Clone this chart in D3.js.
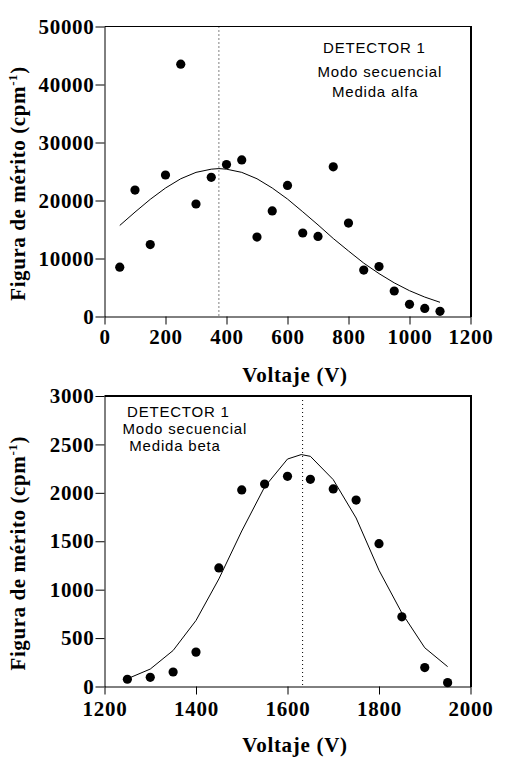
<!DOCTYPE html>
<html><head><meta charset="utf-8">
<script src="https://cdn.jsdelivr.net/npm/d3@7/dist/d3.min.js"></script>
<style>body{margin:0;background:#fff}svg{display:block}</style>
</head><body><svg id="c" width="527" height="762"></svg>
<script>
// ---- Data: panel 1 (alpha) ----
const alphaVoltage = [50,100,150,200,250,300,350,400,450,500,550,600,650,700,750,800,850,900,950,1000,1050,1100];
const alphaMerit   = [8500,21800,12400,24400,43500,19400,24000,26200,27000,13700,18200,22600,14400,13800,25800,16100,8000,8600,4400,2100,1400,900];
const alphaFitVoltage = [50,100,150,200,250,300,350,375,400,450,500,550,600,650,700,750,800,850,900,950,1000,1050,1100];
const alphaFitMerit   = [15700,18000,20200,22150,23750,24850,25400,25500,25400,24850,23750,22150,20250,18050,15800,13450,11300,9200,7400,5800,4450,3350,2450];
const alphaOptimum = 375;
const alphaTicksX = [0,200,400,600,800,1000,1200];
const alphaTicksY = [0,10000,20000,30000,40000,50000];
const alphaLabels = ["DETECTOR 1","Modo secuencial","Medida alfa"];

// ---- Data: panel 2 (beta) ----
const betaVoltage = [1250,1300,1350,1400,1450,1500,1550,1600,1650,1700,1750,1800,1850,1900,1950];
const betaMerit   = [75,95,150,355,1225,2030,2090,2170,2140,2040,1925,1475,720,195,40];
const betaFitVoltage = [1250,1300,1350,1400,1450,1500,1550,1600,1630,1650,1700,1750,1800,1850,1900,1950];
const betaFitMerit   = [80,180,372,682,1111,1606,2061,2349,2395,2377,2136,1740,1200,759,400,205];
const betaOptimum = 1633;
const betaTicksX = [1200,1400,1600,1800,2000];
const betaTicksY = [0,500,1000,1500,2000,2500,3000];
const betaLabels = ["DETECTOR 1","Modo secuencial","Medida beta"];

const xTitle = "Voltaje (V)";
const yTitle = "Figura de mérito (cpm";
const yTitleSup = "-1";

const svg = d3.select("#c");
const SERIF = "'Liberation Serif','Times New Roman',serif";
const SANS = "'Liberation Sans',Arial,sans-serif";

function panel(o){
  const g = svg.append("g");
  const x = d3.scaleLinear().domain(o.xDomain).range([104.5, 470.5]);
  const y = d3.scaleLinear().domain(o.yDomain).range([o.yBottom, o.yTop]);

  // dotted optimum line
  g.append("line")
    .attr("x1", x(o.optimum)).attr("x2", x(o.optimum))
    .attr("y1", y(o.yDomain[1])).attr("y2", y(o.yDomain[0]))
    .attr("stroke","#000").attr("stroke-width",1).attr("stroke-dasharray","1,3");

  // fit curve
  const line = d3.line().x(d=>x(d[0])).y(d=>y(d[1]));
  g.append("path")
    .datum(o.fitX.map((v,i)=>[v,o.fitY[i]]))
    .attr("d", line).attr("fill","none").attr("stroke","#000").attr("stroke-width",1);

  // points
  g.selectAll("circle.pt").data(o.px.map((v,i)=>[v,o.py[i]])).join("circle")
    .attr("class","pt").attr("cx",d=>x(d[0])).attr("cy",d=>y(d[1])).attr("r",4.6).attr("fill","#000");

  // axes
  const ax = g.append("g").attr("transform",`translate(0,${y(o.yDomain[0])})`)
    .call(d3.axisBottom(x).tickValues(o.ticksX).tickSize(8).tickSizeOuter(0).tickPadding(o.xPad).tickFormat(d3.format("d")));
  const ay = g.append("g").attr("transform",`translate(${x(o.xDomain[0])},0)`)
    .call(d3.axisLeft(y).tickValues(o.ticksY).tickSize(9).tickSizeOuter(0).tickPadding(1).tickFormat(d3.format("d")));
  [ax,ay].forEach(a=>{
    a.selectAll("path,line").attr("stroke","#000").attr("stroke-width",1);
    a.selectAll("text").attr("fill","#000").style("font-family",SERIF).style("font-weight","bold")
      .style("font-size","21px").style("letter-spacing","0.7px");
  });

  // frame top & right
  g.append("line").attr("x1",x(o.xDomain[0])).attr("x2",x(o.xDomain[1])+1)
    .attr("y1",y(o.yDomain[1])).attr("y2",y(o.yDomain[1])).attr("stroke","#000").attr("stroke-width",o.topW);
  g.append("line").attr("x1",x(o.xDomain[1])+0.5).attr("x2",x(o.xDomain[1])+0.5)
    .attr("y1",y(o.yDomain[1])-o.topW/2).attr("y2",y(o.yDomain[0])+0.5).attr("stroke","#000").attr("stroke-width",2);

  // annotation
  g.selectAll("text.ann").data(o.labels).join("text").attr("class","ann")
    .attr("x",(d,i)=>o.annX[i]).attr("y",(d,i)=>o.annY[i])
    .style("font-family",SANS).style("font-size","15px").style("letter-spacing","0.8px")
    .attr("fill","#000").text(d=>d);

  // x title
  g.append("text").attr("x",295).attr("y",y(o.yDomain[0])+65.3).attr("text-anchor","middle")
    .style("font-family",SERIF).style("font-weight","bold").style("font-size","21px").style("letter-spacing","0.7px")
    .text(xTitle);

  // y title
  const cy = (o.yTop + o.yBottom)/2 + 12;
  const t = g.append("text").attr("transform",`translate(25,${cy}) rotate(-90)`).attr("text-anchor","middle")
    .style("font-family",SERIF).style("font-weight","bold").style("font-size","21px").style("letter-spacing","0.6px");
  t.append("tspan").text(yTitle);
  t.append("tspan").attr("dy",-8).style("font-size","13px").text(yTitleSup);
  t.append("tspan").attr("dy",8).text(")");
}

panel({xDomain:[0,1200], yDomain:[0,50000], yTop:26.5, yBottom:316.5,
  optimum:alphaOptimum, fitX:alphaFitVoltage, fitY:alphaFitMerit, px:alphaVoltage, py:alphaMerit,
  ticksX:alphaTicksX, ticksY:alphaTicksY, xPad:4.5, topW:1,
  labels:alphaLabels, annX:[323,317.5,332], annY:[52.7,76.5,97]});

panel({xDomain:[1200,2000], yDomain:[0,3000], yTop:396, yBottom:686.5,
  optimum:betaOptimum, fitX:betaFitVoltage, fitY:betaFitMerit, px:betaVoltage, py:betaMerit,
  ticksX:betaTicksX, ticksY:betaTicksY, xPad:6.5, topW:2,
  labels:betaLabels, annX:[127,122.5,129.3], annY:[417,434,451]});
</script></body></html>
